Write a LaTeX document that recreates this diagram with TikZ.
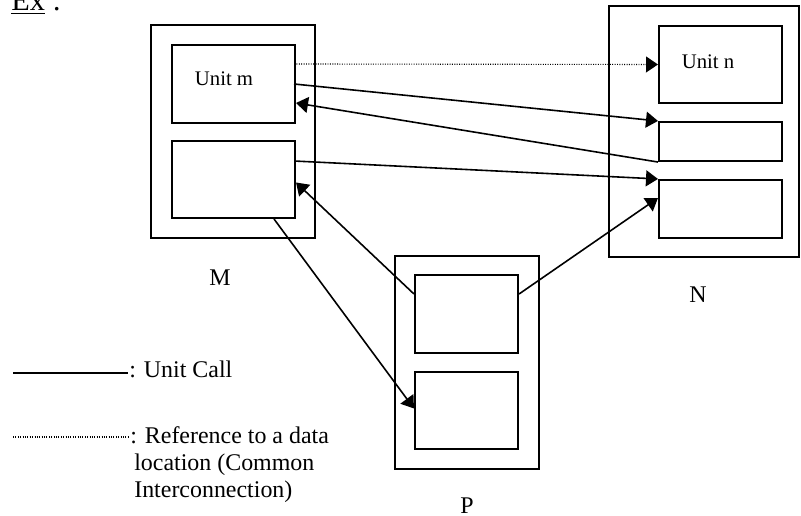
\documentclass[tikz,border=0pt]{standalone}
\usepackage{fontspec}
\setmainfont{Liberation Serif}
\usetikzlibrary{arrows.meta,calc,fit}
\begin{document}
\begin{tikzpicture}[x=0.627pt,y=-0.627pt,
  box/.style={draw,line width=1.3pt,inner sep=0pt,fill=white},
  tip/.style={-{Triangle[length=7.5pt,width=10pt]}},
  call/.style={line width=1pt,tip},
  plainline/.style={line width=1.2pt},
  dataref/.style={line width=0.7pt,dash pattern=on 0.6pt off 0.9pt},
  unitname/.style={font=\fontsize{13}{15}\selectfont,inner sep=0pt},
  legendtext/.style={font=\fontsize{15}{17}\selectfont,inner sep=0pt},
  big/.style={font=\fontsize{15}{18}\selectfont,inner sep=0pt}]
\useasboundingbox (0,0) rectangle (801,516);

% heading
\node[font=\fontsize{19}{22}\selectfont,anchor=base west,inner sep=0pt] (ex) at (11,11) {\underline{Ex} :};

% module M
\node[box,fit={(151,25)(315,238)}] (M) {};
\node[box,fit={(172,45)(295,123)}] (MU) {};
\node[box,fit={(172,141)(295,218)}] (MB) {};
\node[unitname] (mname) at (224,79) {Unit m};
\node[big] (Mlbl) at (220,278) {M};

% module N
\node[box,fit={(609,6)(799,257)}] (N) {};
\node[box,fit={(659,26)(782,103)}] (NU) {};
\node[box,fit={(659,122)(782,161)}] (NB) {};
\node[box,fit={(659,180)(782,238)}] (NC) {};
\node[unitname] (nname) at (708,62) {Unit n};
\node[big] (Nlbl) at (698,295) {N};

% module P
\node[box,fit={(395,256)(539,469)}] (P) {};
\node[box,fit={(415,275)(518,353)}] (PT) {};
\node[box,fit={(415,372)(518,449)}] (PB) {};
\node[big] (Plbl) at (467,506) {P};

% connections
\draw[dataref,tip] ($(MU.east)+(-2,-20)$) -- (NU.west);
\draw[call] ($(MU.east)+(-2,0)$) -- (NB.north west);
\draw[call] (NB.south west) -- ($(MU.east)+(0,19)$);
\draw[call] ($(MB.east)+(-2,-18.5)$) -- (NC.north west);
\draw[call] ($(PT.west)+(0,-20)$) -- ($(MB.east)+(0,3)$);
\draw[call] ($(PT.east)+(0,-20)$) -- ($(NC.west)+(0,-11)$);
\draw[call] ($(MB.south east)+(-22,0)$) -- ($(PB.west)+(0,-2)$);

% legend
\coordinate (la) at (13,373);
\coordinate (lb) at (128,373);
\coordinate (lc) at (13,437);
\coordinate (ld) at (128,437);
\draw[plainline] (la) -- (lb);
\draw[dataref] (lc) -- (ld);
\node[legendtext,anchor=base west] (callt) at (129,377) {: Unit Call};
\node[legendtext,anchor=north west,align=left] (reft) at (130,426)
  {: Reference to a data\\\hspace*{2.5pt}location (Common\\\hspace*{2.5pt}Interconnection)};
\end{tikzpicture}
\end{document}
